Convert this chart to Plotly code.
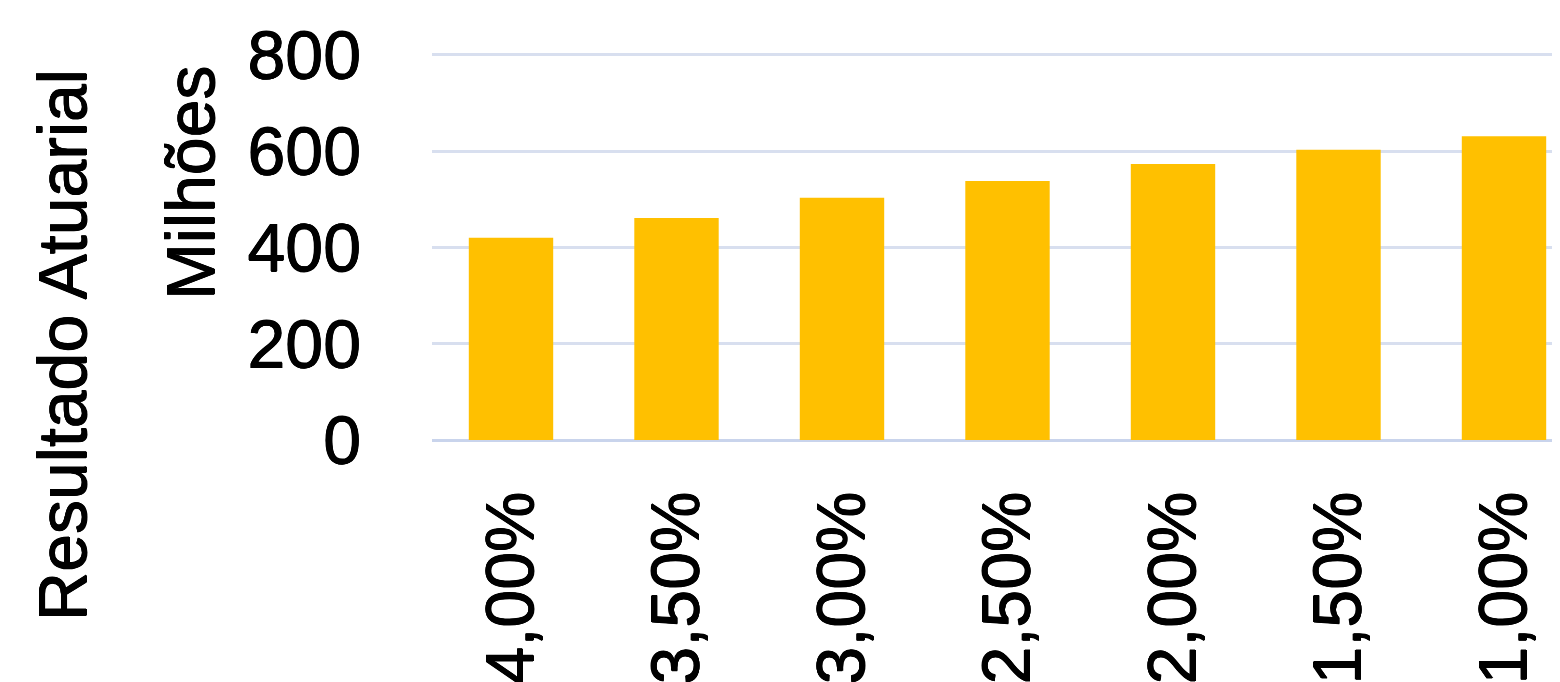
import plotly.graph_objects as go

categories = ["4,00%", "3,50%", "3,00%", "2,50%", "2,00%", "1,50%", "1,00%"]
values = [420, 461, 503, 538, 573, 603, 631]
y_ticks = [0, 200, 400, 600, 800]

OFF = 8  # page body margin
W, H = 1560, 682
Y_MAX = 812
PX_PER_UNIT = 385 / 800
BASE_SCREEN = 440
B = H - (BASE_SCREEN - OFF)
plot_h = Y_MAX * PX_PER_UNIT
T = H - B - plot_h
L, R = 432 - OFF, 0
plot_w = W - L - R

FONT = "Liberation Sans, Arial, Helvetica, sans-serif"
SHADOW = "0.5px 0 0 black, -0.5px 0 0 black, 0 0.5px 0 black, 0 -0.5px 0 black"

fig = go.Figure()
fig.add_trace(go.Bar(
    x=categories, y=values,
    marker=dict(color="#FFC000", line=dict(width=0)),
    width=0.51,
))

def px_x(p):
    return (p - OFF - L) / plot_w

def px_y(p):
    return (H - B - (p - OFF)) / plot_h

tf = dict(size=68, color="black", family=FONT, shadow=SHADOW)

spacing = 165.5
x_lo = -(511 - 432) / spacing
x_hi = (432 + plot_w - 511) / spacing

fig.update_layout(
    width=W, height=H,
    margin=dict(l=L, r=R, t=T, b=B, pad=0, autoexpand=False),
    paper_bgcolor="white", plot_bgcolor="white",
    showlegend=False,
    font=dict(family=FONT, size=68, color="black"),
    xaxis=dict(
        type="category",
        range=[x_lo, x_hi],
        tickangle=-90,
        tickfont=tf,
        showgrid=False, showline=False, zeroline=False,
        ticks="", ticklabelstandoff=37, automargin=False,
    ),
    yaxis=dict(
        range=[0, Y_MAX],
        tickvals=y_ticks,
        ticktext=[str(v) for v in y_ticks],
        tickfont=tf,
        showgrid=True, gridcolor="#d8dfef", gridwidth=2.5,
        zeroline=True, zerolinecolor="#c9d4ec", zerolinewidth=3,
        showline=False, ticks="", ticklabelstandoff=70, automargin=False,
    ),
    annotations=[
        dict(text="Resultado Atuarial", textangle=-90, xref="paper", yref="paper",
             x=px_x(62), y=px_y(345), xanchor="center", yanchor="middle",
             showarrow=False, font=tf),
        dict(text="Milhões", textangle=-90, xref="paper", yref="paper",
             x=px_x(190), y=px_y(183), xanchor="center", yanchor="middle",
             showarrow=False, font=tf),
    ],
)

fig.write_html("out.html")
